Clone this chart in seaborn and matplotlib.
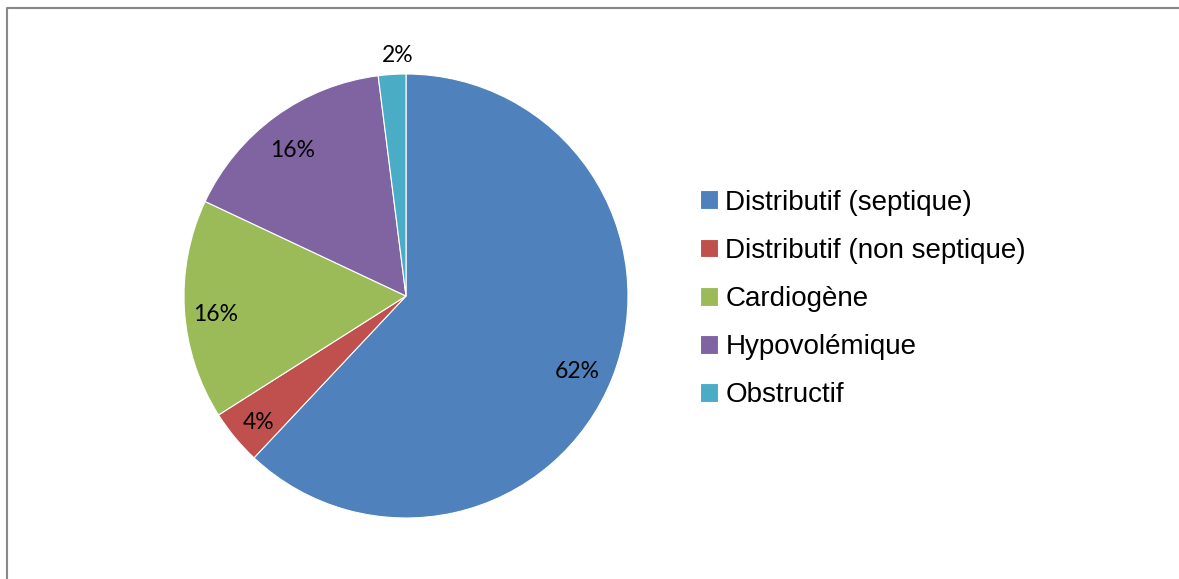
import matplotlib
matplotlib.use("Agg")
import matplotlib.pyplot as plt
from matplotlib.lines import Line2D
import numpy as np
import seaborn as sns

categories = ["Distributif (septique)", "Distributif (non septique)", "Cardiogène",
              "Hypovolémique", "Obstructif"]
values = [62, 4, 16, 16, 2]
pct_labels = ["62%", "4%", "16%", "16%", "2%"]
colors = ["#4F81BD", "#C0504D", "#9BBB59", "#8064A2", "#4BACC6"]

sns.set_theme(style="white")
plt.rcParams["font.family"] = ["Liberation Sans", "DejaVu Sans"]

W, H = 1179, 579
fig = plt.figure(figsize=(W / 100, H / 100), dpi=100)
cx, cy, r = 406, 296, 222
ax = fig.add_axes([(cx - r) / W, (H - cy - r) / H, 2 * r / W, 2 * r / H])

wedges, _ = ax.pie(values, colors=colors, startangle=90, counterclock=False,
                   radius=1.0, wedgeprops=dict(edgecolor="white", linewidth=0.8))
ax.set_xlim(-1, 1)
ax.set_ylim(-1, 1)
ax.set_aspect("equal")
ax.axis("off")

for w, lab, v in zip(wedges, pct_labels, values):
    theta = np.deg2rad((w.theta1 + w.theta2) / 2)
    small = v < 3
    d = 1.085 if small else 0.845
    ax.text(d * np.cos(theta) + (0.03 if small else -0.015),
            d * np.sin(theta) - (0.0 if small else 0.03), lab,
            ha="center", va="center",
            fontsize=16.5, family=["Lato", "DejaVu Sans"], color="black")

leg = fig.legend(wedges, categories, loc="center left",
                 bbox_to_anchor=(700 / W, (H - 299) / H), frameon=False,
                 prop={"family": "Liberation Sans", "size": 20},
                 handlelength=0.66, handleheight=0.66,
                 handletextpad=0.25, labelspacing=0.80, borderpad=0, borderaxespad=0)
for t in leg.get_texts():
    t.set_color("black")

fig.add_artist(Line2D([7 / W, 7 / W, 1.0], [0.0, 1 - 8 / H, 1 - 8 / H],
                      transform=fig.transFigure, color="#888888", linewidth=1.5))

fig.savefig("out.png", dpi=100)
